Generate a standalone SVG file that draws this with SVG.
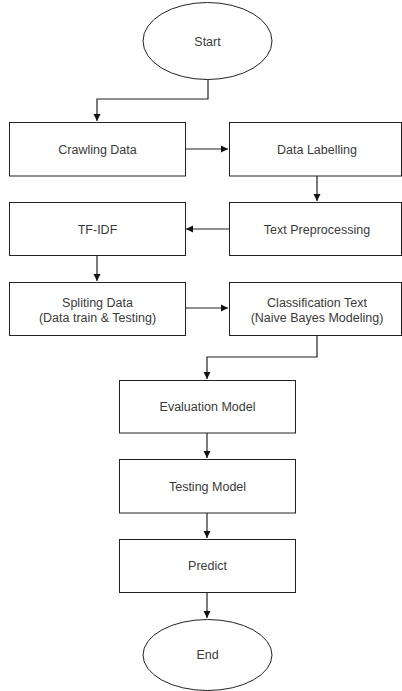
<svg xmlns="http://www.w3.org/2000/svg" width="402" height="691" viewBox="0 0 402 691">
<style>
.n{fill:#fff;stroke:#222;stroke-width:1}
.t{font-family:"Liberation Sans",Arial,sans-serif;font-size:12.5px;fill:#3a3a3a;text-anchor:middle}
.c{fill:none;stroke:#222;stroke-width:1.2}
</style>
<defs>
<marker id="a" markerWidth="8" markerHeight="8" refX="7" refY="4" orient="auto" markerUnits="userSpaceOnUse">
<path d="M0,0.5 L7,4 L0,7.5 Z" fill="#111"/>
</marker>
</defs>
<rect width="402" height="691" fill="#fff"/>
<g id="connectors">
<path class="c" d="M208,79 V99 H97 V121" marker-end="url(#a)"/>
<path class="c" d="M185,149 H228" marker-end="url(#a)"/>
<path class="c" d="M317,176 V201" marker-end="url(#a)"/>
<path class="c" d="M229,229 H186" marker-end="url(#a)"/>
<path class="c" d="M97,255 V281" marker-end="url(#a)"/>
<path class="c" d="M185,308 H228" marker-end="url(#a)"/>
<path class="c" d="M317,336 V357 H207 V379" marker-end="url(#a)"/>
<path class="c" d="M207,433 V458" marker-end="url(#a)"/>
<path class="c" d="M207,513 V538" marker-end="url(#a)"/>
<path class="c" d="M207,592 V618" marker-end="url(#a)"/>
</g>
<g id="start">
<ellipse class="n" cx="207.5" cy="41" rx="64.5" ry="38.5"/>
<text class="t" x="207.5" y="46">Start</text>
</g>
<g id="crawling">
<rect class="n" x="9.5" y="122.5" width="176" height="53.5"/>
<text class="t" x="97.5" y="153.5">Crawling Data</text>
</g>
<g id="labelling">
<rect class="n" x="229.5" y="122.5" width="172" height="53.5"/>
<text class="t" x="317" y="153.5">Data Labelling</text>
</g>
<g id="preprocessing">
<rect class="n" x="229.5" y="202.5" width="172" height="53"/>
<text class="t" x="317" y="233.5">Text Preprocessing</text>
</g>
<g id="tfidf">
<rect class="n" x="9.5" y="202.5" width="176" height="53"/>
<text class="t" x="97.5" y="233.5">TF-IDF</text>
</g>
<g id="spliting">
<rect class="n" x="9.5" y="282.5" width="176" height="53"/>
<text class="t" x="97.5" y="307">Spliting Data</text>
<text class="t" x="97.5" y="321.5">(Data train &amp; Testing)</text>
</g>
<g id="classification">
<rect class="n" x="229.5" y="282.5" width="172" height="53"/>
<text class="t" x="317" y="307">Classification Text</text>
<text class="t" x="317" y="321.5">(Naive Bayes Modeling)</text>
</g>
<g id="evaluation">
<rect class="n" x="119.5" y="380.5" width="176" height="52.5"/>
<text class="t" x="207.5" y="411">Evaluation Model</text>
</g>
<g id="testing">
<rect class="n" x="119.5" y="459.5" width="176" height="53.5"/>
<text class="t" x="207.5" y="491">Testing Model</text>
</g>
<g id="predict">
<rect class="n" x="119.5" y="539.5" width="176" height="53"/>
<text class="t" x="207.5" y="570">Predict</text>
</g>
<g id="end">
<ellipse class="n" cx="207.5" cy="655" rx="64.5" ry="35.5"/>
<text class="t" x="207.5" y="659">End</text>
</g>
</svg>
